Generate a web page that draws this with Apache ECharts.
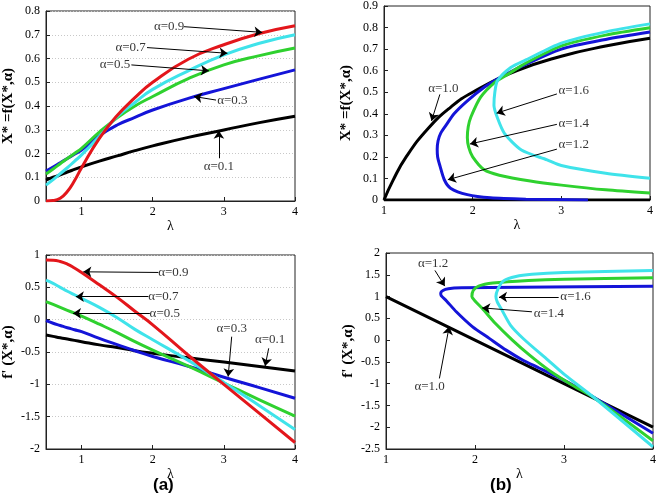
<!DOCTYPE html>
<html><head><meta charset="utf-8">
<script src="https://cdn.jsdelivr.net/npm/echarts@6/dist/echarts.min.js"></script>
<style>html,body{margin:0;padding:0;background:#fff}#c{width:659px;height:501px}</style>
</head><body><div id="c"></div>
<script>
// ---------- DATA ----------
// Panel (a) — common λ grid
const LAM_A = [0.5, 0.6, 0.7, 0.8, 0.9, 1, 1.25, 1.5, 1.75, 2, 2.5, 3, 3.5, 4];
// X* = f(X*,α), panel (a)
const XA_01 = [0.088, 0.1, 0.11, 0.122, 0.133, 0.144, 0.168, 0.19, 0.212, 0.232, 0.268, 0.299, 0.33, 0.357];
const XA_03 = [0.126, 0.143, 0.161, 0.179, 0.197, 0.215, 0.275, 0.32, 0.352, 0.383, 0.432, 0.473, 0.513, 0.552];
const XA_05 = [0.114, 0.135, 0.157, 0.179, 0.2, 0.222, 0.29, 0.35, 0.40, 0.44, 0.515, 0.573, 0.612, 0.644];
const XA_07 = [0.067, 0.09, 0.115, 0.14, 0.167, 0.194, 0.272, 0.355, 0.415, 0.47, 0.548, 0.615, 0.664, 0.70];
const XA_09 = [0, 0.002, 0.012, 0.04, 0.085, 0.14, 0.264, 0.36, 0.435, 0.50, 0.597, 0.658, 0.705, 0.738];
// f'(X*,α), panel (a)
const FA_01 = [-0.236, -0.258, -0.28, -0.3, -0.32, -0.34, -0.39, -0.43, -0.48, -0.52, -0.59, -0.655, -0.725, -0.795];
const FA_03 = [-0.015, -0.055, -0.09, -0.125, -0.155, -0.185, -0.29, -0.385, -0.48, -0.57, -0.72, -0.89, -1.05, -1.215];
const FA_05 = [0.28, 0.235, 0.19, 0.145, 0.1, 0.055, -0.07, -0.2, -0.34, -0.47, -0.72, -0.98, -1.24, -1.49];
const FA_07 = [0.61, 0.56, 0.5, 0.44, 0.385, 0.33, 0.19, 0.03, -0.15, -0.31, -0.63, -0.97, -1.33, -1.70];
const FA_09 = [0.923, 0.92, 0.9, 0.86, 0.80, 0.73, 0.54, 0.345, 0.13, -0.08, -0.55, -1.0, -1.45, -1.90];

// Panel (b) — X*, curves as (λ, X*) paths
const XB_10_LAM = [1, 1.1, 1.25, 1.5, 1.75, 2, 2.5, 3, 3.5, 4];
const XB_10 = [0, 0.09, 0.2, 0.333, 0.43, 0.5, 0.6, 0.667, 0.714, 0.75];
const XB_ZERO_LAM = [1, 4];
const XB_ZERO = [0, 0];
const XB_12_LAM = [3.3, 2.6, 2.2, 1.94, 1.75, 1.68, 1.63, 1.605, 1.6, 1.61, 1.64, 1.7, 1.79, 1.94, 2.13, 2.28, 2.5, 3, 3.5, 4];
const XB_12 = [0, 0.004, 0.01, 0.025, 0.055, 0.094, 0.16, 0.2, 0.235, 0.275, 0.31, 0.347, 0.4, 0.46, 0.523, 0.561, 0.61, 0.70, 0.745, 0.779];
const XB_14_LAM = [4, 3.5, 3, 2.65, 2.3, 2.13, 2.0, 1.955, 1.94, 1.95, 1.98, 2.09, 2.25, 2.4, 2.6, 3, 3.5, 4];
const XB_14 = [0.032, 0.047, 0.069, 0.088, 0.115, 0.14, 0.2, 0.245, 0.29, 0.34, 0.385, 0.477, 0.546, 0.584, 0.635, 0.715, 0.765, 0.799];
const XB_16_LAM = [4, 3.5, 3, 2.84, 2.55, 2.36, 2.28, 2.24, 2.25, 2.28, 2.43, 2.6, 3, 3.5, 4];
const XB_16 = [0.101, 0.124, 0.16, 0.186, 0.232, 0.308, 0.38, 0.44, 0.5, 0.554, 0.615, 0.65, 0.728, 0.78, 0.817];

// Panel (b) — f'
const FB_10_LAM = [1, 2, 3, 4];
const FB_10 = [1, 0, -1, -2];
const FB_12_LAM = [4, 3.35, 3.09, 2.9, 2.72, 2.53, 2.35, 2.16, 1.97, 1.79, 1.68, 1.62, 1.615, 1.64, 1.7, 1.85, 2.5, 4];
const FB_12 = [-2.14, -1.33, -1.02, -0.82, -0.64, -0.45, -0.23, 0.04, 0.31, 0.65, 0.9, 1.02, 1.08, 1.14, 1.18, 1.2, 1.215, 1.235];
const FB_14_LAM = [4, 3.35, 3.09, 2.83, 2.61, 2.42, 2.23, 2.08, 2.0, 1.965, 1.98, 2.04, 2.2, 2.6, 3, 4];
const FB_14 = [-2.31, -1.34, -1.03, -0.69, -0.34, 0.0, 0.38, 0.73, 0.9, 1.0, 1.14, 1.24, 1.31, 1.37, 1.40, 1.43];
const FB_16_LAM = [4, 3.35, 3.01, 2.82, 2.55, 2.4, 2.3, 2.25, 2.235, 2.26, 2.32, 2.46, 2.64, 3, 4];
const FB_16 = [-2.45, -1.34, -0.80, -0.46, 0.02, 0.34, 0.7, 0.88, 1.0, 1.18, 1.36, 1.46, 1.51, 1.55, 1.60];

// Tick labels
const X_TICKS = [1, 2, 3, 4];

// Annotations: [label, textλ, textY, tailλ, tailY, tipλ, tipY]
const ANN_A_TOP = [
  ['α=0.9', 2.23, 0.734, 2.44, 0.734, 3.54, 0.71],
  ['α=0.7', 1.69, 0.646, 1.92, 0.646, 3.05, 0.622],
  ['α=0.5', 1.47, 0.573, 1.70, 0.573, 2.79, 0.548],
  ['α=0.3', 3.12, 0.422, 2.89, 0.425, 2.58, 0.44],
  ['α=0.1', 2.93, 0.147, 2.93, 0.18, 2.93, 0.296]
];
const ANN_A_BOT = [
  ['α=0.9', 2.29, 0.73, 2.08, 0.73, 1.025, 0.74],
  ['α=0.7', 2.15, 0.356, 1.94, 0.356, 0.92, 0.356],
  ['α=0.5', 2.17, 0.098, 1.96, 0.098, 0.88, 0.098],
  ['α=0.3', 3.11, -0.134, 3.11, -0.263, 3.06, -0.88],
  ['α=0.1', 3.65, -0.314, 3.63, -0.443, 3.58, -0.716]
];
const ANN_B_TOP = [
  ['α=1.0', 1.67, 0.515, 1.63, 0.49, 1.536, 0.367],
  ['α=1.6', 3.14, 0.508, 2.95, 0.492, 2.27, 0.403],
  ['α=1.4', 3.14, 0.354, 2.95, 0.351, 1.97, 0.26],
  ['α=1.2', 3.14, 0.255, 2.95, 0.236, 1.72, 0.094]
];
const ANN_B_BOT = [
  ['α=1.2', 1.53, 1.76, 1.55, 1.60, 1.66, 1.24],
  ['α=1.6', 3.13, 0.99, 2.94, 0.99, 2.27, 0.99],
  ['α=1.4', 2.83, 0.61, 2.64, 0.65, 2.08, 0.74],
  ['α=1.0', 1.49, -1.07, 1.60, -0.88, 1.71, 0.31]
];

// ---------- STYLE ----------
const C = { black: '#000000', blue: '#1414d8', green: '#2fd12f', cyan: '#3fe3ea', red: '#e3161b' };
const SERIF = '"Liberation Serif","DejaVu Serif",serif';

function zip(a, b) { return a.map((v, i) => [v, b[i]]); }

function grid(left, top, width, height) {
  return { left, top, width, height, show: true, borderColor: '#222', borderWidth: 1, backgroundColor: 'transparent', containLabel: false };
}
function xAx(idx, min, max) {
  return {
    gridIndex: idx, type: 'value', min, max,
    name: 'λ', nameLocation: 'middle', nameGap: 15,
    nameTextStyle: { fontFamily: SERIF, fontSize: 14, color: '#000' },
    axisLine: { show: true, onZero: false, lineStyle: { color: '#222' } },
    axisTick: { show: true, inside: true, length: 4, customValues: X_TICKS, lineStyle: { color: '#222' } },
    axisLabel: { customValues: X_TICKS, fontFamily: SERIF, fontSize: 12, color: '#000', margin: 5 },
    splitLine: { show: false }
  };
}
function yAx(idx, min, max, interval, name, grid) {
  return {
    gridIndex: idx, type: 'value', min, max, interval,
    name, nameLocation: 'middle', nameGap: 30, nameRotate: 90,
    nameTextStyle: { fontFamily: SERIF, fontSize: 15, fontWeight: 'bold', color: '#000' },
    axisLine: { show: true, onZero: false, lineStyle: { color: '#222' } },
    axisTick: { show: true, inside: true, length: 4, lineStyle: { color: '#222' } },
    axisLabel: { fontFamily: SERIF, fontSize: 12, color: '#000', margin: 6 },
    splitLine: { show: grid, lineStyle: { color: '#c8c8c8', type: [1, 2], width: 1 } }
  };
}
function line(idx, data, color, smooth) {
  return {
    type: 'line', xAxisIndex: idx, yAxisIndex: idx, data, showSymbol: false, symbol: 'none',
    smooth: smooth, lineStyle: { color, width: 3 }, silent: true, z: 3
  };
}
function annot(idx, list) {
  return {
    type: 'scatter', xAxisIndex: idx, yAxisIndex: idx, symbolSize: 0, silent: true, z: 10,
    data: list.map(a => ({ name: a[0], value: [a[1], a[2]] })),
    label: { show: true, position: 'inside', formatter: '{b}', fontFamily: SERIF, fontSize: 13, color: '#000' },
    markLine: {
      silent: true, animation: false, symbol: ['none', 'arrow'], symbolSize: 8, precision: 4,
      label: { show: false },
      lineStyle: { color: '#000', width: 1, type: 'solid' },
      data: list.map(a => [{ coord: [a[3], a[4]] }, { coord: [a[5], a[6]] }])
    }
  };
}

const option = {
  animation: false,
  backgroundColor: '#fff',
  grid: [
    grid(46, 11, 249, 190),
    grid(384, 5, 266, 195),
    grid(45, 255, 250, 194),
    grid(386, 253, 269, 196)
  ],
  xAxis: [xAx(0, 0.5, 4), xAx(1, 1, 4), xAx(2, 0.5, 4), xAx(3, 1, 4)],
  yAxis: [
    yAx(0, 0, 0.8, 0.1, 'X* =f(X*,α)', true),
    yAx(1, 0, 0.9, 0.1, 'X* =f(X*,α)', false),
    yAx(2, -2, 1, 0.5, "f' (X*,α)", true),
    yAx(3, -2.5, 2, 0.5, "f' (X*,α)", false)
  ],
  graphic: [
    { type: 'text', left: 153, top: 477, style: { text: '(a)', font: 'bold 17px "Liberation Sans", Arial, sans-serif', fill: '#000' } },
    { type: 'text', left: 490, top: 477, style: { text: '(b)', font: 'bold 17px "Liberation Sans", Arial, sans-serif', fill: '#000' } }
  ],
  series: [
    line(0, zip(LAM_A, XA_01), C.black, true),
    line(0, zip(LAM_A, XA_03), C.blue, true),
    line(0, zip(LAM_A, XA_05), C.green, true),
    line(0, zip(LAM_A, XA_07), C.cyan, true),
    line(0, zip(LAM_A, XA_09), C.red, true),
    annot(0, ANN_A_TOP),

    line(1, zip(XB_ZERO_LAM, XB_ZERO), C.black, false),
    line(1, zip(XB_10_LAM, XB_10), C.black, true),
    line(1, zip(XB_12_LAM, XB_12), C.blue, 0.25),
    line(1, zip(XB_14_LAM, XB_14), C.green, 0.25),
    line(1, zip(XB_16_LAM, XB_16), C.cyan, 0.25),
    annot(1, ANN_B_TOP),

    line(2, zip(LAM_A, FA_01), C.black, true),
    line(2, zip(LAM_A, FA_03), C.blue, true),
    line(2, zip(LAM_A, FA_05), C.green, true),
    line(2, zip(LAM_A, FA_07), C.cyan, true),
    line(2, zip(LAM_A, FA_09), C.red, true),
    annot(2, ANN_A_BOT),

    line(3, zip(FB_10_LAM, FB_10), C.black, false),
    line(3, zip(FB_12_LAM, FB_12), C.blue, 0.25),
    line(3, zip(FB_14_LAM, FB_14), C.green, 0.25),
    line(3, zip(FB_16_LAM, FB_16), C.cyan, 0.25),
    annot(3, ANN_B_BOT)
  ]
};
const chart = echarts.init(document.getElementById('c'), null, { renderer: 'canvas' });
chart.setOption(option);
</script>
</body></html>
